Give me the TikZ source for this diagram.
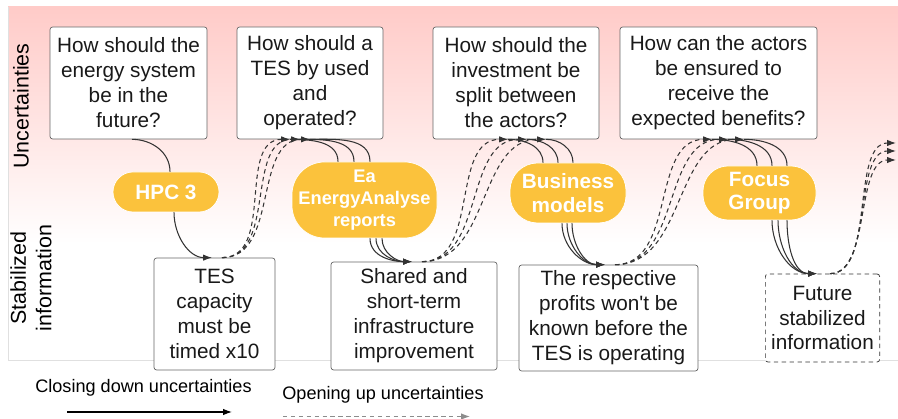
\documentclass[tikz,border=0pt]{standalone}
\usepackage{fontspec}
\setmainfont{Liberation Sans}[Ligatures=TeXOff]
\usepackage{tikz}
\usetikzlibrary{arrows.meta, positioning}
\definecolor{BandPink}{HTML}{FFCBC8}
\definecolor{ToolYellow}{HTML}{FBC23C}
\definecolor{LineGray}{HTML}{333333}
\tikzstyle{quest} = [rectangle, rounded corners=1.5pt, draw=black!60, fill=white,
text=black!90, align=center, font=\fontsize{11.8}{14.2}\selectfont]
\tikzstyle{tool} = [rectangle, rounded corners=0.4cm, draw=white, fill=ToolYellow,
text=white, align=center, font=\fontsize{11.8}{13.5}\selectfont\bfseries]
\tikzstyle{closing} = [draw=LineGray, line width=0.6pt]
\tikzstyle{closingarrow} = [closing, -{Latex[length=5pt,width=3.6pt]}]
\tikzstyle{opening} = [draw=LineGray, line width=0.6pt, dash pattern=on 2.5pt off 2pt,
-{Latex[length=5pt,width=3.6pt]}]

\begin{document}
\begin{tikzpicture}
  \useasboundingbox (0,0) rectangle (17.96,8.38);
  % background band
  \fill[white] (0,0) rectangle (17.96,8.38);
  \shade[top color=BandPink, bottom color=white] (0.16,3.50) rectangle (17.96,8.24);
  \draw[black!12] (0.16,8.24) -- (0.16,1.18) -- (17.96,1.18);
  \node[rotate=90,font=\fontsize{12.2}{14.5}\selectfont] (uncert) at (0.42,6.26) {Uncertainties};
  \node[rotate=90,align=center,font=\fontsize{12.2}{14.5}\selectfont] (stabil) at (0.62,2.82)
    {Stabilized\\information};

  % uncertainties
  \node[quest,minimum width=3.14cm,minimum height=2.24cm] (q1) at (2.57,6.72)
    {How should the\\energy system\\be in the\\future?};
  \node[quest,minimum width=2.92cm,minimum height=2.24cm] (q2) at (6.20,6.72)
    {How should a\\TES by used\\and\\operated?};
  \node[quest,minimum width=3.32cm,minimum height=2.24cm] (q3) at (10.32,6.72)
    {How should the\\investment be\\split between\\the actors?};
  \node[quest,minimum width=3.94cm,minimum height=2.24cm] (q4) at (14.37,6.72)
    {How can the actors\\be ensured to\\receive the\\expected benefits?};

  % tools
  \node[tool,minimum width=2.12cm,minimum height=0.80cm] (t1) at (3.32,4.54) {HPC 3};
  \node[tool,minimum width=2.90cm,minimum height=1.52cm,rounded corners=0.65cm,
    font=\fontsize{10.4}{12.4}\selectfont\bfseries] (t2) at (7.29,4.38)
    {Ea\\EnergyAnalyse\\reports};
  \node[tool,minimum width=2.32cm,minimum height=1.20cm,rounded corners=0.55cm] (t3) at (11.36,4.52)
    {Business\\models};
  \node[tool,minimum width=2.26cm,minimum height=1.08cm,rounded corners=0.5cm] (t4) at (15.19,4.52)
    {Focus\\Group};

  % stabilized information
  \node[quest,minimum width=2.42cm,minimum height=2.24cm] (s1) at (4.29,2.10)
    {TES\\capacity\\must be\\timed x10};
  \node[quest,minimum width=3.32cm,minimum height=2.16cm] (s2) at (8.28,2.06)
    {Shared and\\short-term\\infrastructure\\improvement};
  \node[quest,minimum width=3.58cm,minimum height=2.08cm] (s3) at (12.17,2.02)
    {The respective\\profits won't be\\known before the\\TES is operating};
  \node[quest,minimum width=2.14cm,minimum height=1.76cm,draw=black!80,
    dash pattern=on 2.5pt off 2pt] (s4) at (16.45,2.02)
    {Future\\stabilized\\information};

  % stage 1
  \draw[closing] ([xshift=0.07cm]q1.south) to[out=0,in=90] ([xshift=0.08cm]t1.north);
  \draw[closingarrow] ([xshift=0.16cm]t1.south) to[out=-90,in=180] ([xshift=-0.05cm]s1.north);

  % stage 2
  \draw[opening] ([xshift=0.15cm]s1.north) to[out=0,in=180] ([xshift=-0.40cm]q2.south);
  \draw[opening] ([xshift=0.15cm]s1.north) to[out=0,in=180] ([xshift=-0.20cm]q2.south);
  \draw[opening] ([xshift=0.15cm]s1.north) to[out=0,in=180] (q2.south);
  \draw[closing] ([xshift=-0.40cm]q2.south) to[out=0,in=90] ([xshift=-0.53cm]t2.north);
  \draw[closing] ([xshift=-0.20cm]q2.south) to[out=0,in=90] ([xshift=-0.21cm]t2.north);
  \draw[closing] (q2.south) to[out=0,in=90] ([xshift=0.11cm]t2.north);
  \draw[closingarrow] ([xshift=0.11cm]t2.south) to[out=-90,in=180] ([xshift=-0.04cm]s2.north);
  \draw[closingarrow] ([xshift=0.23cm]t2.south) to[out=-90,in=180] ([xshift=-0.04cm]s2.north);
  \draw[closingarrow] ([xshift=0.35cm]t2.south) to[out=-90,in=180] ([xshift=-0.04cm]s2.north);

  % stage 3
  \draw[opening] ([xshift=0.16cm]s2.north) to[out=0,in=180] ([xshift=-0.16cm]q3.south);
  \draw[opening] ([xshift=0.16cm]s2.north) to[out=0,in=180] ([xshift=0.22cm]q3.south);
  \draw[opening] ([xshift=0.16cm]s2.north) to[out=0,in=180] ([xshift=0.60cm]q3.south);
  \draw[closing] ([xshift=-0.16cm]q3.south) to[out=0,in=90] ([xshift=-0.50cm]t3.north);
  \draw[closing] ([xshift=0.22cm]q3.south) to[out=0,in=90] ([xshift=-0.20cm]t3.north);
  \draw[closing] ([xshift=0.60cm]q3.south) to[out=0,in=90] ([xshift=0.10cm]t3.north);
  \draw[closingarrow] ([xshift=-0.12cm]t3.south) to[out=-90,in=180] ([xshift=-0.07cm]s3.north);
  \draw[closingarrow] ([xshift=-0.02cm]t3.south) to[out=-90,in=180] ([xshift=-0.07cm]s3.north);
  \draw[closingarrow] ([xshift=0.08cm]t3.south) to[out=-90,in=180] ([xshift=-0.07cm]s3.north);

  % stage 4
  \draw[opening] ([xshift=0.13cm]s3.north) to[out=0,in=180] ([xshift=-0.13cm]q4.south);
  \draw[opening] ([xshift=0.13cm]s3.north) to[out=0,in=180] ([xshift=0.19cm]q4.south);
  \draw[opening] ([xshift=0.13cm]s3.north) to[out=0,in=180] ([xshift=0.51cm]q4.south);
  \draw[closing] ([xshift=-0.13cm]q4.south) to[out=0,in=90] ([xshift=-0.05cm]t4.north);
  \draw[closing] ([xshift=0.19cm]q4.south) to[out=0,in=90] ([xshift=0.25cm]t4.north);
  \draw[closing] ([xshift=0.51cm]q4.south) to[out=0,in=90] ([xshift=0.55cm]t4.north);
  \draw[closingarrow] ([xshift=0.25cm]t4.south) to[out=-90,in=180] ([xshift=-0.11cm]s4.north);
  \draw[closingarrow] ([xshift=0.37cm]t4.south) to[out=-90,in=180] ([xshift=-0.11cm]s4.north);
  \draw[closingarrow] ([xshift=0.55cm]t4.south) to[out=-90,in=180] ([xshift=-0.11cm]s4.north);

  % stage 5 (still open)
  \coordinate (next1) at (17.92,5.52);
  \coordinate (next2) at (17.92,5.36);
  \coordinate (next3) at (17.92,5.18);
  \draw[opening] ([xshift=0.15cm]s4.north) to[out=0,in=180,looseness=0.8] (next1);
  \draw[opening] ([xshift=0.15cm]s4.north) to[out=0,in=180,looseness=0.8] (next2);
  \draw[opening] ([xshift=0.15cm]s4.north) to[out=0,in=180,looseness=0.8] (next3);

  % legend
  \node[font=\fontsize{10.3}{12}\selectfont] (closelbl) at (2.87,0.62) {Closing down uncertainties};
  \coordinate (closea) at (1.34,0.14);
  \coordinate (closeb) at (4.64,0.14);
  \draw[closingarrow,draw=black] (closea) -- (closeb);
  \node[font=\fontsize{10.3}{12}\selectfont] (openlbl) at (7.66,0.48) {Opening up uncertainties};
  \coordinate (opena) at (5.66,0.05);
  \coordinate (openb) at (9.40,0.05);
  \draw[opening,draw=black!45] (opena) -- (openb);
\end{tikzpicture}
\end{document}
